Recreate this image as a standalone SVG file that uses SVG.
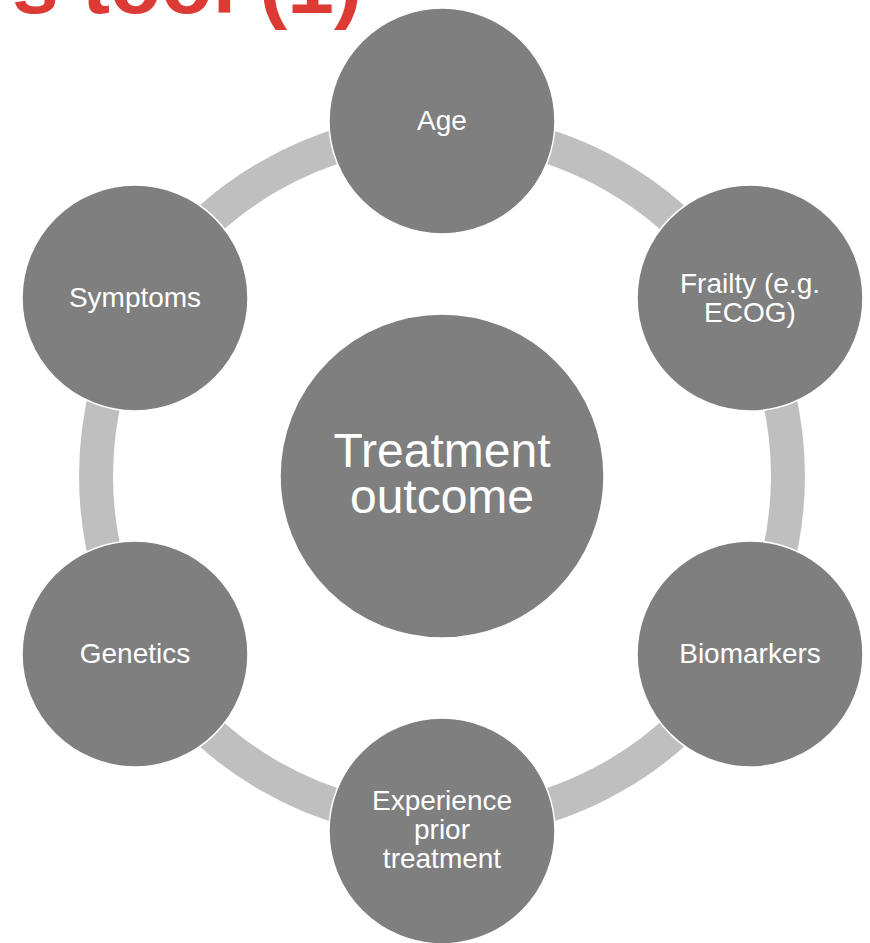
<svg xmlns="http://www.w3.org/2000/svg" width="870" height="943" viewBox="0 0 870 943">
<style>
.node{fill:#7F7F7F;stroke:#FFFFFF;stroke-width:1.5}
.lbl{fill:#FFFFFF;font-family:"Liberation Sans",Arial,sans-serif;font-size:28px;text-anchor:middle}
.big{font-size:48px}
.ring{fill:none;stroke:#BFBFBF;stroke-width:34}
.title{fill:#DC3A35;font-family:"Liberation Sans",Arial,sans-serif;font-weight:bold;font-size:84px;text-anchor:end}
</style>
<rect width="870" height="943" fill="#FFFFFF"/>
<text class="title" x="362" y="13">s tool (1)</text>
<g id="connectors">
<path class="ring" d="M442,130 A346,346 0 0 1 741.6,303"/>
<path class="ring" d="M741.6,303 A346,346 0 0 1 741.6,649"/>
<path class="ring" d="M741.6,649 A346,346 0 0 1 442,822"/>
<path class="ring" d="M442,822 A346,346 0 0 1 142.4,649"/>
<path class="ring" d="M142.4,649 A346,346 0 0 1 142.4,303"/>
<path class="ring" d="M142.4,303 A346,346 0 0 1 442,130"/>
</g>
<g id="center">
<circle class="node" cx="442" cy="476" r="162"/>
<text class="lbl big" x="442" y="467">Treatment</text>
<text class="lbl big" x="442" y="513">outcome</text>
</g>
<g id="age">
<circle class="node" cx="442" cy="121" r="113"/>
<text class="lbl" x="442" y="130">Age</text>
</g>
<g id="frailty">
<circle class="node" cx="750" cy="298" r="113"/>
<text class="lbl" x="750" y="293">Frailty (e.g.</text>
<text class="lbl" x="750" y="322">ECOG)</text>
</g>
<g id="biomarkers">
<circle class="node" cx="750" cy="654" r="113"/>
<text class="lbl" x="750" y="663">Biomarkers</text>
</g>
<g id="experience">
<circle class="node" cx="442" cy="831" r="113"/>
<text class="lbl" x="442" y="810">Experience</text>
<text class="lbl" x="442" y="839">prior</text>
<text class="lbl" x="442" y="868">treatment</text>
</g>
<g id="genetics">
<circle class="node" cx="135" cy="654" r="113"/>
<text class="lbl" x="135" y="663">Genetics</text>
</g>
<g id="symptoms">
<circle class="node" cx="135" cy="298" r="113"/>
<text class="lbl" x="135" y="307">Symptoms</text>
</g>
</svg>
